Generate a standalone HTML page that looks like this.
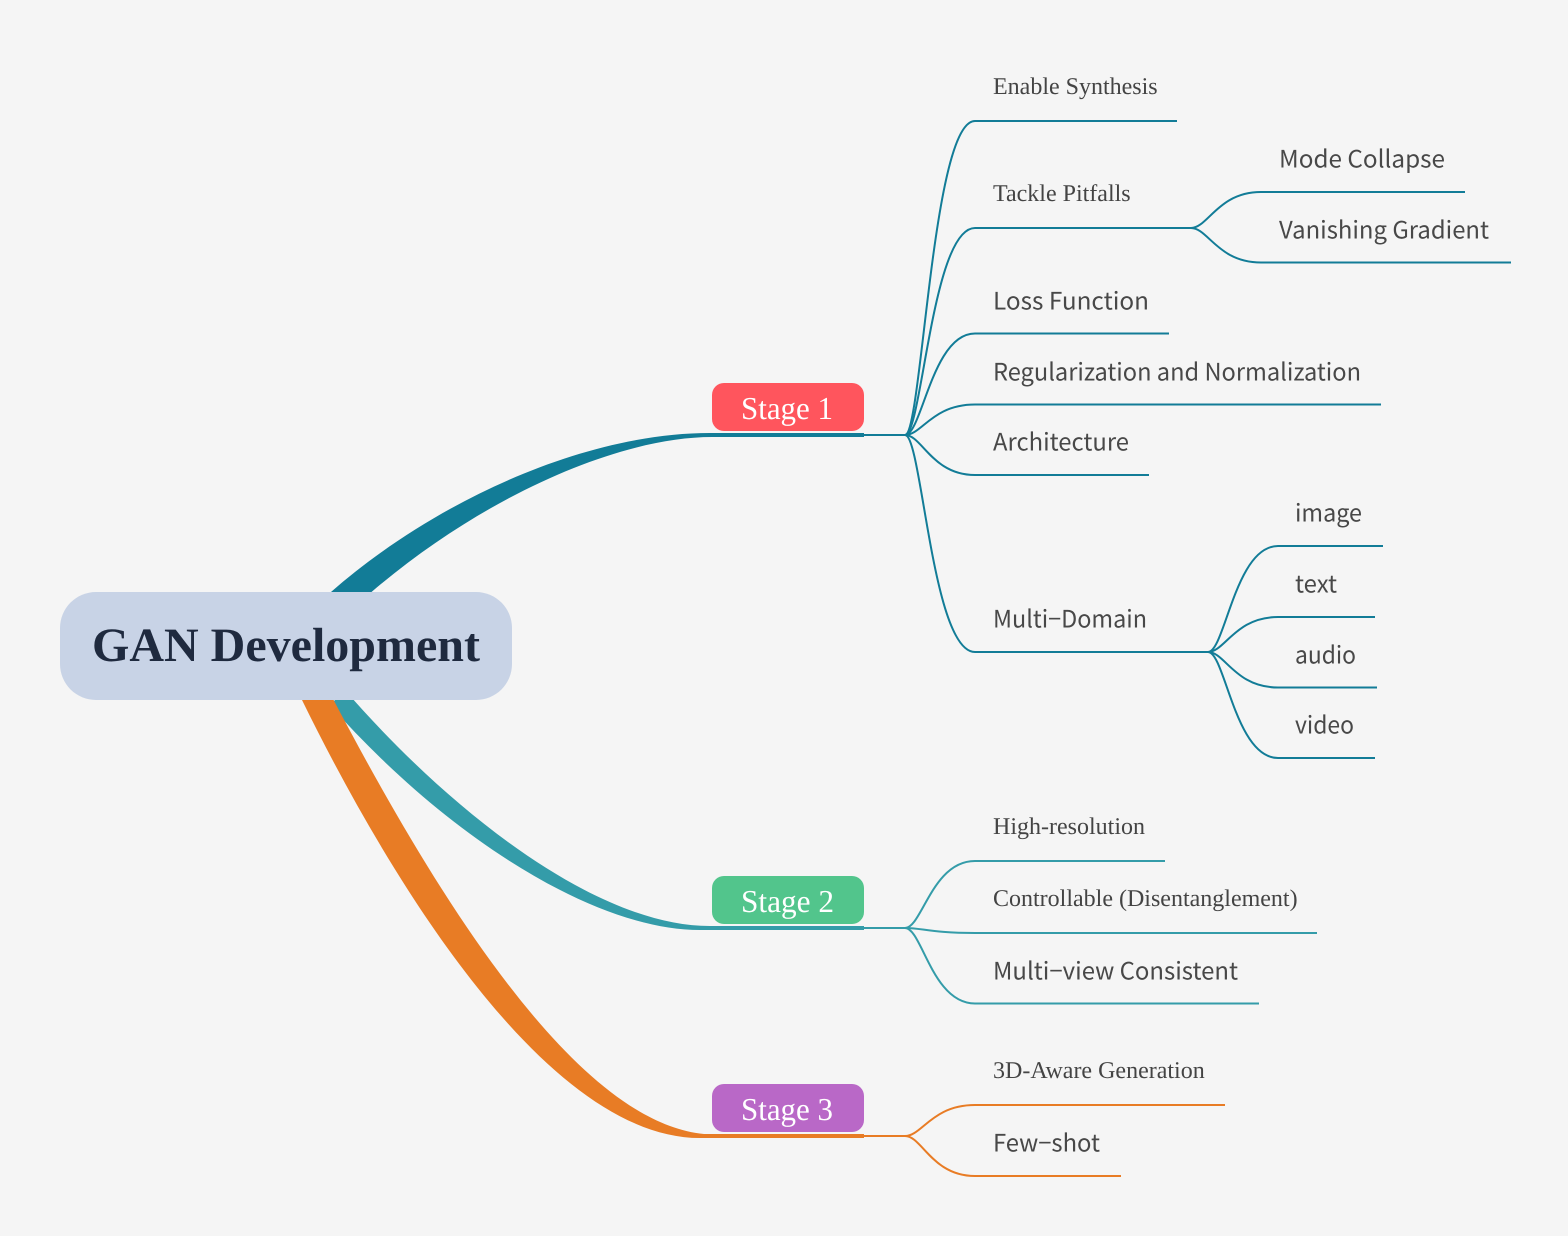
<!DOCTYPE html>
<html>
<head>
<meta charset="utf-8">
<style>
html,body{margin:0;padding:0;background:#f5f5f5;width:1568px;height:1236px;overflow:hidden}
svg{display:block;text-rendering:geometricPrecision}
.s{font-family:"Liberation Serif",serif;font-size:24px;fill:#444}
.n{font-family:"Noto Sans CJK SC","Liberation Sans",sans-serif;font-size:24px;fill:#484848;font-weight:400}
.st{font-family:"Liberation Serif",serif;font-size:32px;fill:#fff}
.l{fill:none;stroke-width:2}
.a .l{stroke:#127c97}.b .l{stroke:#349ca9}.c .l{stroke:#e87c25}
</style>
</head>
<body>
<svg width="1568" height="1236" viewBox="0 0 1568 1236" xmlns="http://www.w3.org/2000/svg">
<rect width="1568" height="1236" fill="#f5f5f5"/>

<!-- thick branches -->
<path fill="#127c97" d="M331 592C430 505 580 433 710 433L864 433V437L712 437C620 437 485 495 371.500 592L372 640H331Z"/>
<path fill="#349ca9" d="M345 690C440 800 590 926 710 926L864 926V930L700 930C590 930 440 830 330 705Z"/>
<path fill="#e87c25" d="M302 700L333.600 700C435 893 575 1122 704 1134L864 1134V1138L700 1138C550 1138 395 890 302 700Z"/>

<!-- root -->
<rect x="60" y="592" width="452" height="108" rx="36" fill="#c8d3e6"/>
<text x="92" y="661" font-family="Liberation Serif,serif" font-weight="700" font-size="48" fill="#1f2a3f">GAN Development</text>

<!-- stages -->
<rect x="712" y="383" width="152" height="48" rx="12" fill="#ff555d"/>
<text class="st" x="741" y="419" textLength="92" lengthAdjust="spacingAndGlyphs">Stage 1</text>
<rect x="712" y="876" width="152" height="48" rx="12" fill="#52c58c"/>
<text class="st" x="741" y="912" textLength="93" lengthAdjust="spacingAndGlyphs">Stage 2</text>
<rect x="712" y="1084" width="152" height="48" rx="12" fill="#b968c7"/>
<text class="st" x="741" y="1120" textLength="92" lengthAdjust="spacingAndGlyphs">Stage 3</text>

<!-- stage 1 connectors -->
<g class="a">
<path class="l" d="M864 435H905C922 435 932 121 975 121H1177"/>
<path class="l" d="M905 435C922 435 932 228 975 228H1191C1208 228 1218 192 1261 192H1465"/>
<path class="l" d="M1191 228C1208 228 1218 262.500 1261 262.500H1511"/>
<path class="l" d="M905 435C922 435 932 333.500 975 333.500H1169"/>
<path class="l" d="M905 435C922 435 932 404.500 975 404.500H1381"/>
<path class="l" d="M905 435C922 435 932 475 975 475H1149"/>
<path class="l" d="M905 435C922 435 932 652 975 652H1208C1225 652 1235 546 1278 546H1383"/>
<path class="l" d="M1208 652C1225 652 1235 617 1278 617H1375"/>
<path class="l" d="M1208 652C1225 652 1235 687.500 1278 687.500H1377"/>
<path class="l" d="M1208 652C1225 652 1235 758 1278 758H1375"/>
</g>

<!-- stage 2 connectors -->
<g class="b">
<path class="l" d="M864 928H905C922 928 932 861 975 861H1165"/>
<path class="l" d="M905 928C922 928 932 933 975 933H1317"/>
<path class="l" d="M905 928C922 928 932 1003.500 975 1003.500H1259"/>
</g>

<!-- stage 3 connectors -->
<g class="c">
<path class="l" d="M864 1136H905C922 1136 932 1105 975 1105H1225"/>
<path class="l" d="M905 1136C922 1136 932 1176 975 1176H1121"/>
</g>

<!-- labels -->
<text class="s" x="993" y="94">Enable Synthesis</text>
<text class="s" x="993" y="201">Tackle Pitfalls</text>
<text class="n" x="993" y="309.500" textLength="156" lengthAdjust="spacingAndGlyphs">Loss Function</text>
<text class="n" x="993" y="380.500" textLength="368" lengthAdjust="spacingAndGlyphs">Regularization and Normalization</text>
<text class="n" x="993" y="450.500" textLength="136" lengthAdjust="spacingAndGlyphs">Architecture</text>
<text class="n" x="993" y="627.500" textLength="154" lengthAdjust="spacingAndGlyphs">Multi−Domain</text>
<text class="n" x="1279" y="167.500" textLength="166" lengthAdjust="spacingAndGlyphs">Mode Collapse</text>
<text class="n" x="1279" y="238.500" textLength="210" lengthAdjust="spacingAndGlyphs">Vanishing Gradient</text>
<text class="n" x="1295" y="521.500" textLength="67" lengthAdjust="spacingAndGlyphs">image</text>
<text class="n" x="1295" y="592.500" textLength="42" lengthAdjust="spacingAndGlyphs">text</text>
<text class="n" x="1295" y="663.500" textLength="61" lengthAdjust="spacingAndGlyphs">audio</text>
<text class="n" x="1295" y="733.500" textLength="59" lengthAdjust="spacingAndGlyphs">video</text>
<text class="s" x="993" y="834">High-resolution</text>
<text class="s" x="993" y="906">Controllable (Disentanglement)</text>
<text class="n" x="993" y="979.500" textLength="245" lengthAdjust="spacingAndGlyphs">Multi−view Consistent</text>
<text class="s" x="993" y="1078">3D-Aware Generation</text>
<text class="n" x="993" y="1151.500" textLength="107" lengthAdjust="spacingAndGlyphs">Few−shot</text>
</svg>
</body>
</html>
